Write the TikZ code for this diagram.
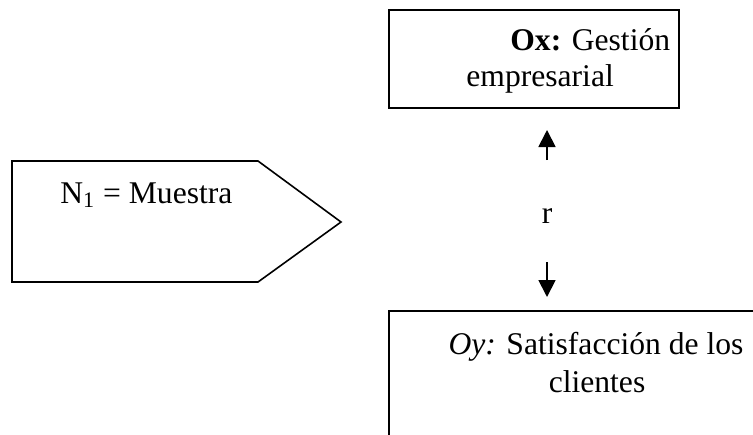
\documentclass[tikz,border=0pt]{standalone}
\usepackage{fontspec}
\setmainfont{Liberation Serif}
\usetikzlibrary{arrows.meta}
\tikzset{
  caja/.style={draw, line width=0.8pt, inner sep=0pt},
  flecha/.style={-{Triangle[width=8.5pt,length=8.5pt]}, line width=0.9pt},
  texto/.style={font=\fontsize{15.8}{18.5}\selectfont, inner sep=0pt}
}
\begin{document}
\begin{tikzpicture}[x=0.5pt,y=-0.5pt]
            \useasboundingbox (0,0) rectangle (753,434);
            \clip (0,0) rectangle (753,434);
            % muestra
            \draw[line width=0.8pt] (12,161)--(258,161)--(341,222)--(258,282)--(12,282)--cycle;
            \node[texto, anchor=base west] (n) at (60,203) {N\textsubscript{1} = Muestra};
            % variable Ox
            \node[caja, minimum width=145pt, minimum height=49pt] (ox) at (534,59) {};
            \node[texto, anchor=base west] (oxa) at (510,50) {\textbf{Ox:} Gestión};
            \node[texto, anchor=base west] (oxb) at (466,86) {empresarial};
            % variable Oy
            \node[caja, minimum width=205pt, minimum height=84pt] (oy) at (594,395) {};
            \node[texto, anchor=base] (oya) at (596,354) {\textit{Oy:} Satisfacción de los};
            \node[texto, anchor=base] (oyb) at (597,392) {clientes};
            % relacion
            \node[texto, anchor=base] (r) at (547,223) {r};
            \coordinate (ua) at (547,160);
            \coordinate (ub) at (547,130);
            \coordinate (da) at (547,262);
            \coordinate (db) at (547,297);
            \draw[flecha] (ua)--(ub);
            \draw[flecha] (da)--(db);
        \end{tikzpicture}
\end{document}
